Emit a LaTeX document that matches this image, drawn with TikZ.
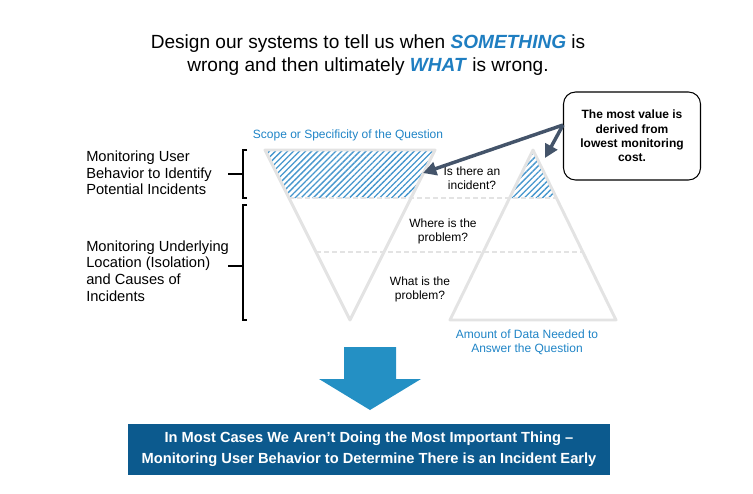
\documentclass[tikz,border=0pt]{standalone}
\usepackage{fontspec}
\setmainfont{Liberation Sans}
\usetikzlibrary{patterns.meta,arrows.meta}
\definecolor{ttlblue}{HTML}{1F7EC1}
\definecolor{lblblue}{HTML}{1F84C6}
\definecolor{arrblue}{HTML}{2490C4}
\definecolor{boxblue}{HTML}{0C5A8E}
\definecolor{slate}{HTML}{44546A}
\definecolor{trigray}{HTML}{E3E3E3}
\definecolor{hatchblue}{HTML}{4596CD}
\tikzset{
  tri/.style={draw=trigray,line width=2.2pt,line join=round},
  hatchfill/.style={pattern={Lines[angle=45,distance=3.2pt,line width=1pt]},pattern color=hatchblue},
  level/.style={draw=trigray,line width=0.8pt,dash pattern=on 4pt off 2pt},
  qtext/.style={font=\fontsize{9}{10.5}\selectfont,align=center,inner sep=0pt},
  bluelbl/.style={font=\fontsize{9}{10.5}\selectfont,align=center,text=lblblue,inner sep=0pt},
  sidetext/.style={font=\fontsize{11}{12.5}\selectfont,align=left,anchor=west,inner sep=0pt},
  brace/.style={draw=black,line width=1.6pt},
  callarrow/.style={draw=slate,line width=2.6pt,-{Triangle[length=10pt,width=10pt]}},
}
\begin{document}
\begin{tikzpicture}[x=0.75pt,y=-0.75pt]
\useasboundingbox (0,0) rectangle (753,493);
% title
\node[font=\fontsize{14.3}{17.5}\selectfont,align=center,inner sep=0pt] (title) at (368,55)
  {Design our systems to tell us when \textcolor{ttlblue}{\textbf{\textit{SOMETHING}}} is\\
   wrong and then ultimately \textcolor{ttlblue}{\textbf{\textit{WHAT}}} is wrong.};
% hatched areas
\fill[hatchfill] (265,150) -- (435,150) -- (411,198) -- (289,198) -- cycle;
\fill[hatchfill] (533,150) -- (557,198) -- (509,198) -- cycle;
% level lines
\coordinate (l1a) at (289,198); \coordinate (l1b) at (557,198);
\coordinate (l2a) at (316,252); \coordinate (l2b) at (583,252);
\draw[level] (l1a) -- (l1b);
\draw[level] (l2a) -- (l2b);
% triangles
\coordinate (lt1) at (265,150); \coordinate (lt2) at (435,150); \coordinate (lt3) at (350,320);
\coordinate (rt1) at (533,150); \coordinate (rt2) at (616,320); \coordinate (rt3) at (450,320);
\draw[tri] (lt1) -- (lt2) -- (lt3) -- cycle;
\draw[tri] (rt1) -- (rt2) -- (rt3) -- cycle;
% labels
\node[bluelbl] (scope) at (348,135) {Scope or Specificity of the Question};
\node[bluelbl] (amount) at (527,342) {Amount of Data Needed to\\Answer the Question};
\node[qtext] (q1) at (472,178) {Is there an\\incident?};
\node[qtext] (q2) at (443,231) {Where is the\\problem?};
\node[qtext] (q3) at (420,289) {What is the\\problem?};
% callout
\node[draw=black,line width=0.8pt,rounded corners=9pt,minimum width=102.75pt,minimum height=66pt,
  align=center,font=\bfseries\fontsize{9}{10.8}\selectfont,inner sep=2pt] (callout) at (632,136)
  {The most value is\\derived from\\lowest monitoring\\cost.};
\coordinate (src) at (563,125);
\coordinate (t1) at (423,173);
\coordinate (t2) at (545,158);
\draw[callarrow] (src) -- (t1);
\draw[callarrow] (src) -- (t2);
% brackets
\draw[brace] (247,150) -- (243,150) -- (243,198) -- (247,198);
\draw[brace] (228,174) -- (243,174);
\draw[brace] (247,205) -- (243,205) -- (243,320) -- (247,320);
\draw[brace] (228,266) -- (243,266);
\node[sidetext] (s1) at (86,173) {Monitoring User\\Behavior to Identify\\Potential Incidents};
\node[sidetext] (s2) at (86,271) {Monitoring Underlying\\Location (Isolation)\\and Causes of\\Incidents};
% block arrow
\fill[arrblue] (344,347) -- (396,347) -- (396,379) -- (421,379) -- (370,410) -- (319,379) -- (344,379) -- cycle;
% bottom box
\node[fill=boxblue,text=white,minimum width=361.5pt,minimum height=38.25pt,align=center,
  font=\bfseries\fontsize{11}{15.5}\selectfont,inner sep=0pt] (bottom) at (369,449.5)
  {In Most Cases We Aren’t Doing the Most Important Thing –\\Monitoring User Behavior to Determine There is an Incident Early};
\end{tikzpicture}
\end{document}
